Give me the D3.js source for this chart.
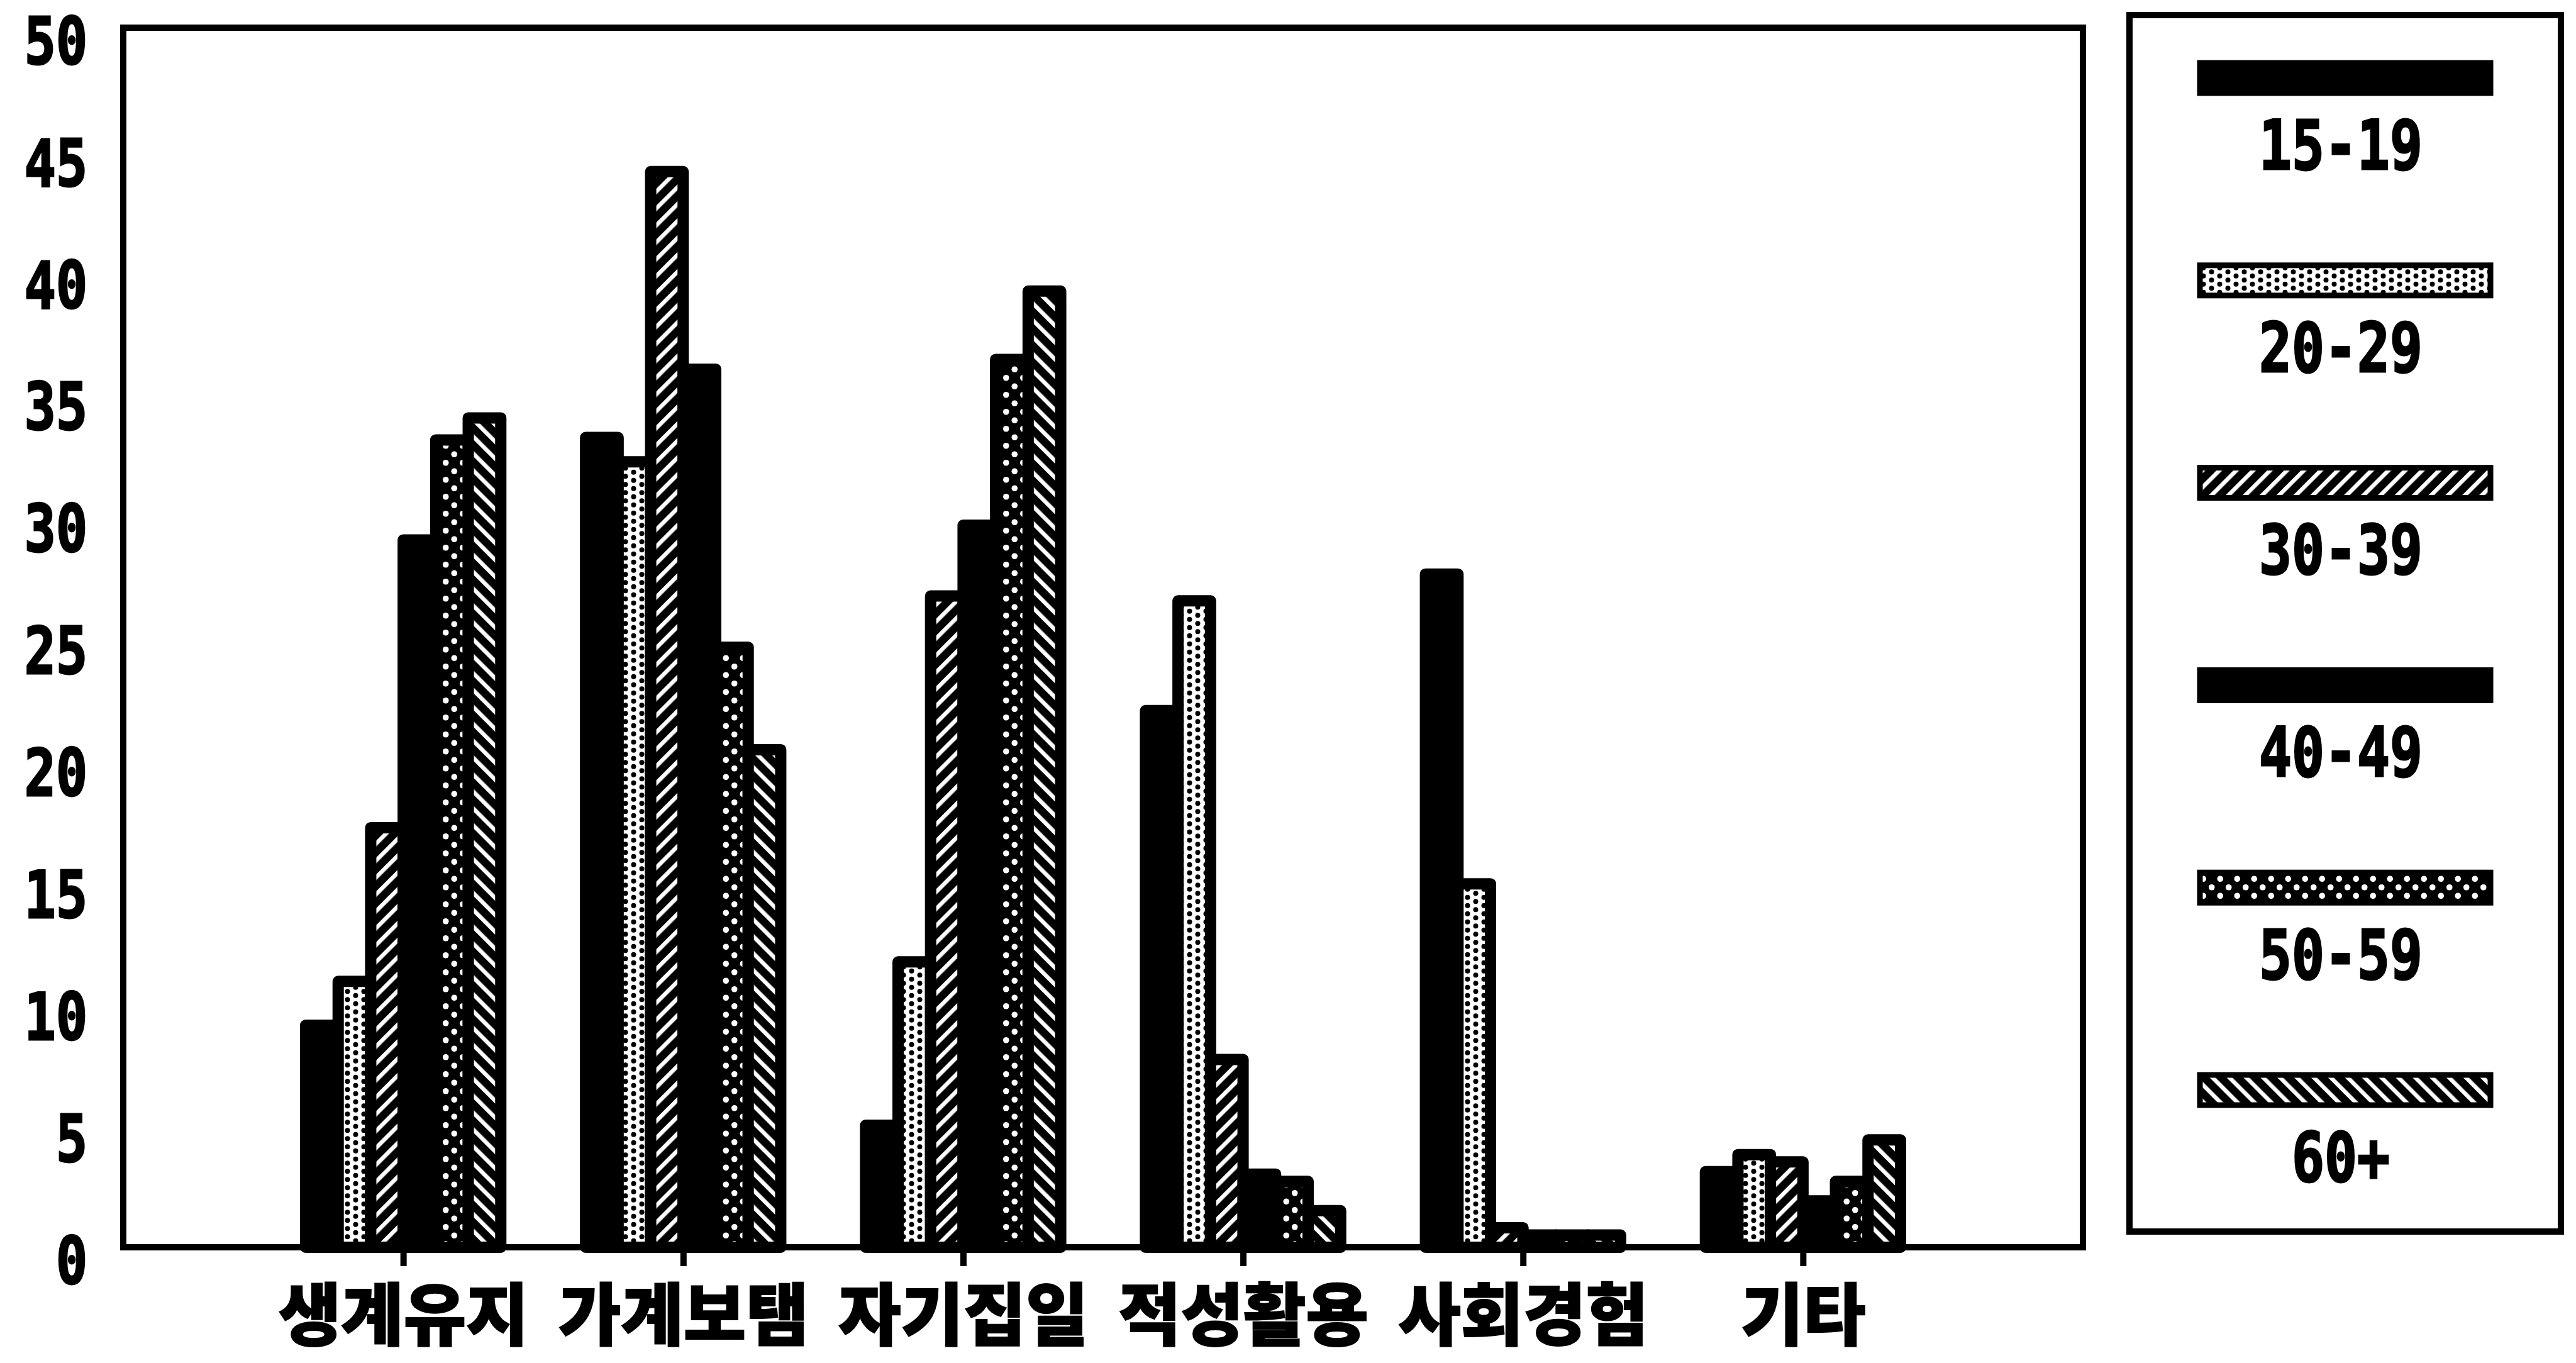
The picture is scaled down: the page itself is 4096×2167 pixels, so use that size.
<!DOCTYPE html>
<html>
<head>
<meta charset="utf-8">
<script src="https://cdn.jsdelivr.net/npm/d3@7/dist/d3.min.js"></script>
<style>
  html, body { margin: 0; padding: 0; background: #ffffff; }
  svg { display: block; }
</style>
</head>
<body>
<script>
// Reasons for working, share (%) by age group
const categories = ["생계유지", "가계보탬", "자기집일", "적성활용", "사회경험", "기타"];
const ageGroups = ["15-19", "20-29", "30-39", "40-49", "50-59", "60+"];

const age15to19 = [9.1, 33.2, 5.0, 22.0, 27.6, 3.1];
const age20to29 = [10.9, 32.2, 11.7, 26.5, 14.9, 3.8];
const age30to39 = [17.2, 44.1, 26.7, 7.7, 0.8, 3.5];
const age40to49 = [29.0, 36.0, 29.6, 3.0, 0.5, 1.9];
const age50to59 = [33.1, 24.6, 36.4, 2.7, 0.5, 2.7];
const age60plus = [34.0, 20.4, 39.2, 1.5, 0.5, 4.4];

const yTicks = [0, 5, 10, 15, 20, 25, 30, 35, 40, 45, 50];

const seriesValues = [age15to19, age20to29, age30to39, age40to49, age50to59, age60plus];
// fill style for each age group
const seriesFill = ["solid", "dots", "hatchUp", "solid", "holes", "hatchDown"];

const W = 4096, H = 2167;
const plot = { left: 196, right: 3312, top: 44, bottom: 1983 };
const legendBox = { left: 3386, right: 4072, top: 24, bottom: 1958 };

const svg = d3.select("body").append("svg")
  .attr("width", W).attr("height", H)
  .attr("viewBox", `0 0 ${W} ${H}`);

svg.append("rect").attr("width", W).attr("height", H).attr("fill", "#fff");

// ---- fill patterns ----
const defs = svg.append("defs");

function hatch(id, angle) {
  const p = defs.append("pattern").attr("id", id)
    .attr("patternUnits", "userSpaceOnUse")
    .attr("width", 19).attr("height", 10)
    .attr("patternTransform", `rotate(${angle})`);
  p.append("rect").attr("width", 19).attr("height", 10).attr("fill", "#000");
  p.append("rect").attr("x", 0).attr("width", 6.5).attr("height", 10).attr("fill", "#fff");
}
hatch("hatchUp", 45);
hatch("hatchDown", -45);

// light dotted: black dots on white
{
  const p = defs.append("pattern").attr("id", "dots")
    .attr("patternUnits", "userSpaceOnUse")
    .attr("width", 26).attr("height", 13);
  p.append("rect").attr("width", 26).attr("height", 13).attr("fill", "#fff");
  [[6.5, 3.25], [19.5, 9.75], [-6.5, 9.75], [32.5, 3.25], [6.5, 16.25], [19.5, -3.25]]
    .forEach(([cx, cy]) =>
      p.append("circle").attr("cx", cx).attr("cy", cy).attr("r", 4).attr("fill", "#000"));
}
// dark dotted: white holes on black
{
  const p = defs.append("pattern").attr("id", "holes")
    .attr("patternUnits", "userSpaceOnUse")
    .attr("width", 27).attr("height", 27);
  p.append("rect").attr("width", 27).attr("height", 27).attr("fill", "#000");
  [[6.75, 6.75], [20.25, 20.25]].forEach(([cx, cy]) =>
    p.append("circle").attr("cx", cx).attr("cy", cy).attr("r", 4.8).attr("fill", "#fff"));
}
const fillOf = k => k === "solid" ? "#000" : `url(#${k})`;

// ---- scales ----
const x = d3.scalePoint().domain(categories).range([plot.left, plot.right]).padding(1);
const groupWidth = x.step() * 0.697;
const xInner = d3.scaleBand().domain(ageGroups).range([-groupWidth / 2, groupWidth / 2]).padding(0);
const y = d3.scaleLinear().domain([0, 50]).range([plot.bottom, plot.top]);

// ---- plot frame ----
svg.append("rect")
  .attr("x", plot.left).attr("y", plot.top)
  .attr("width", plot.right - plot.left).attr("height", plot.bottom - plot.top)
  .attr("fill", "none").attr("stroke", "#000").attr("stroke-width", 10);

// ---- bars ----
const barData = [];
ageGroups.forEach((g, si) => {
  categories.forEach((c, ci) => {
    barData.push({ cat: c, group: g, value: seriesValues[si][ci], fill: seriesFill[si] });
  });
});

svg.append("g").selectAll("rect").data(barData).join("rect")
  .attr("x", d => x(d.cat) + xInner(d.group))
  .attr("y", d => y(d.value))
  .attr("width", xInner.bandwidth())
  .attr("height", d => y(0) - y(d.value))
  .attr("fill", d => fillOf(d.fill))
  .attr("stroke", "#000")
  .attr("stroke-width", 18)
  .attr("stroke-linejoin", "round");

// ---- y axis ----
const monoFont = "'DejaVu Sans Mono', 'Liberation Mono', monospace";
const sx = 0.8;
const yAxis = svg.append("g")
  .attr("transform", `translate(${plot.left},0)`)
  .call(d3.axisLeft(y).tickValues(yTicks).tickSize(0).tickFormat(d3.format("d")));
yAxis.select(".domain").remove();
yAxis.selectAll("text")
  .attr("x", -57 / sx)
  .attr("dy", "0.55em")
  .attr("transform", `scale(${sx},1)`)
  .attr("fill", "#000")
  .attr("stroke", "#000")
  .attr("stroke-width", 3)
  .style("font-family", monoFont)
  .style("font-weight", "bold")
  .style("font-size", "104px");

// ---- x axis ----
const xAxis = svg.append("g")
  .attr("transform", `translate(0,${plot.bottom})`)
  .call(d3.axisBottom(x).tickSize(30));
xAxis.select(".domain").remove();
xAxis.selectAll(".tick line").attr("stroke", "#000").attr("stroke-width", 10);
xAxis.selectAll("text")
  .attr("y", 100)
  .attr("dy", 0)
  .attr("dominant-baseline", "central")
  .attr("fill", "#000")
  .attr("stroke", "#000")
  .attr("stroke-width", 2)
  .style("font-family", "'Noto Sans CJK KR', sans-serif")
  .style("font-weight", 900)
  .style("font-size", "108px");

// ---- legend ----
svg.append("rect")
  .attr("x", legendBox.left).attr("y", legendBox.top)
  .attr("width", legendBox.right - legendBox.left)
  .attr("height", legendBox.bottom - legendBox.top)
  .attr("fill", "#fff").attr("stroke", "#000").attr("stroke-width", 10);

const legendY = d3.scalePoint().domain(ageGroups).range([124, 1733]);
const swatchLeft = 3498, swatchRight = 3960;
const legendCenterX = 3722;

const legendItems = svg.append("g").selectAll("g").data(ageGroups).join("g");
legendItems.append("rect")
  .attr("x", swatchLeft)
  .attr("y", d => legendY(d) - 24)
  .attr("width", swatchRight - swatchLeft)
  .attr("height", 48)
  .attr("fill", (d, i) => fillOf(seriesFill[i]))
  .attr("stroke", "#000").attr("stroke-width", 9);
legendItems.append("text")
  .attr("transform", d => `translate(${legendCenterX},${legendY(d) + 106}) scale(${sx},1)`)
  .attr("text-anchor", "middle")
  .attr("dy", "0.36em")
  .attr("fill", "#000")
  .attr("stroke", "#000")
  .attr("stroke-width", 3)
  .style("font-family", monoFont)
  .style("font-weight", "bold")
  .style("font-size", "108px")
  .text(d => d);
</script>
</body>
</html>
